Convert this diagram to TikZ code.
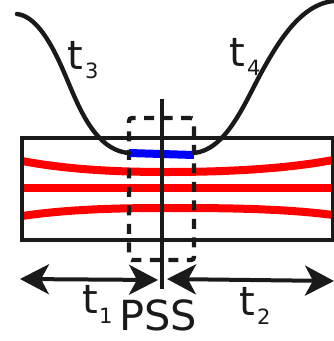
\documentclass[tikz,border=0pt]{standalone}
\usepackage{fontspec}
\setmainfont{DejaVu Sans}
\usetikzlibrary{arrows.meta}
\definecolor{ink}{HTML}{1A1A1A}
\tikzset{
  frame/.style={draw=ink,line width=4.6pt,line join=miter},
  redline/.style={draw=red,line width=8pt},
  blueline/.style={draw=blue,line width=8pt},
  dashbox/.style={draw=ink,line width=4.4pt,dash pattern=on 10pt off 8.5pt,rounded corners=3pt},
  curve/.style={draw=ink,line width=4.4pt,line cap=round},
  rule/.style={draw=ink,line width=3.8pt},
  span/.style={draw=ink,line width=4pt,{Stealth[length=29pt,width=30pt,inset=8pt]}-{Stealth[length=29pt,width=30pt,inset=8pt]}},
  lab/.style={text=ink,inner sep=0pt,font=\fontsize{40}{40}\selectfont,anchor=base west},
  pslab/.style={text=ink,inner sep=0pt,font=\fontsize{41.5}{41.5}\selectfont,anchor=base west},
  sub/.style={text=ink,inner sep=0pt,font=\fontsize{21}{21}\selectfont,anchor=base west}
}
\begin{document}
\begin{tikzpicture}[x=1pt,y=-1pt]
\useasboundingbox (0,0) rectangle (334,341);
% red channels
\draw[redline] (22,161) .. controls (70,170) and (120,172) .. (167,172) .. controls (215,172) and (280,170) .. (333,160);
\draw[redline] (22,188) -- (333,188);
\draw[redline] (22,216) .. controls (70,209) and (120,208) .. (167,208) .. controls (215,208) and (280,208) .. (333,215);
% frame
\node[frame,minimum width=311pt,minimum height=102pt,inner sep=0pt] (box) at (177.5,189) {};
% dashed box
\node[dashbox,minimum width=65pt,minimum height=142pt,inner sep=0pt] (win) at (161.5,189) {};
% blue segment
\coordinate (bl) at (129,153);
\coordinate (br) at (194,155);
\draw[blueline] (bl) -- (br);
% top curves
\coordinate (cl) at (17,14);
\coordinate (cr) at (334,1);
\draw[curve] (cl) .. controls (35,16) and (50,40) .. (63,70) .. controls (76,99) and (92,150) .. (bl);
\draw[curve] (194,153) .. controls (225,150) and (243,107) .. (260,75) .. controls (277,44) and (300,4) .. (cr);
% vertical line
\coordinate (vt) at (162,99);
\coordinate (vb) at (162,289);
\draw[rule] (vt) -- (vb);
% arrows
\coordinate (a1) at (20,279);
\coordinate (a2) at (158,280);
\coordinate (a3) at (167,279);
\coordinate (a4) at (334,281);
\draw[span] (a1) -- (a2);
\draw[span] (a3) -- (a4);
% labels
\node[lab] (t3) at (67,69) {t};
\node[sub] (s3) at (85,78) {3};
\node[lab] (t4) at (229,66) {t};
\node[sub] (s4) at (247,75) {4};
\node[lab] (t1) at (82,313) {t};
\node[sub] (s1) at (99,323) {1};
\node[lab] (t2) at (239,315) {t};
\node[sub] (s2) at (257,324) {2};
\node[pslab] (pss) at (119,330) {PSS};
\end{tikzpicture}
\end{document}
